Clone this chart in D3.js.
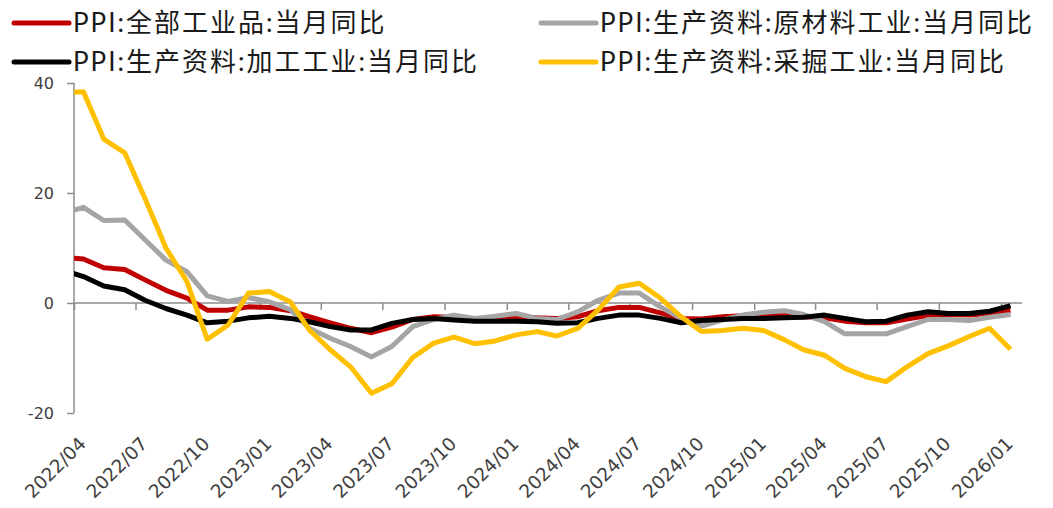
<!DOCTYPE html>
<html>
<head>
<meta charset="utf-8">
<script src="https://cdn.jsdelivr.net/npm/d3@7/dist/d3.min.js"></script>
<style>
  body { margin: 0; background: #fff; }
  svg text { font-family: "DejaVu Sans", sans-serif; }
  .legend_text { font-family: "Lato", "Noto Sans CJK SC", sans-serif; font-size: 26px; letter-spacing: 2px; fill: #1a1a1a; }
  .tick_text { font-size: 16px; fill: #404040; }
  .date_text { font-size: 18.5px; fill: #404040; }
</style>
</head>
<body>
<svg id="main_svg_container" width="1053" height="508"></svg>
<script>
// months 2022/03 .. 2026/01 (2022/03 sits just left of the axis and is clipped)
var months = ["2022/03","2022/04","2022/05","2022/06","2022/07","2022/08","2022/09","2022/10","2022/11","2022/12",
  "2023/01","2023/02","2023/03","2023/04","2023/05","2023/06","2023/07","2023/08","2023/09","2023/10","2023/11","2023/12",
  "2024/01","2024/02","2024/03","2024/04","2024/05","2024/06","2024/07","2024/08","2024/09","2024/10","2024/11","2024/12",
  "2025/01","2025/02","2025/03","2025/04","2025/05","2025/06","2025/07","2025/08","2025/09","2025/10","2025/11","2025/12",
  "2026/01"];

var ppi_all = [8.3, 8.0, 6.4, 6.1, 4.2, 2.3, 0.9, -1.3, -1.3, -0.7,
  -0.8, -1.4, -2.5, -3.6, -4.6, -5.4, -4.4, -3.0, -2.5, -2.6, -3.0, -2.7,
  -2.5, -2.7, -2.8, -2.5, -1.4, -0.8, -0.8, -1.8, -2.8, -2.9, -2.5, -2.3,
  -2.3, -2.2, -2.5, -2.7, -3.3, -3.6, -3.6, -2.9, -2.3, -2.1, -2.2, -1.9,
  -1.4];

var ppi_raw = [16.3, 17.4, 15.0, 15.1, 11.5, 7.8, 5.7, 1.3, 0.3, 1.0,
  0.2, -1.2, -4.6, -6.4, -7.9, -9.8, -7.9, -4.3, -3.0, -2.2, -2.8, -2.4,
  -1.9, -2.8, -3.0, -1.6, 0.5, 1.8, 1.8, -0.7, -2.8, -4.2, -3.1, -2.2,
  -1.7, -1.4, -2.1, -3.4, -5.6, -5.6, -5.6, -4.3, -3.0, -3.0, -3.2, -2.6,
  -2.1];

var ppi_proc = [6.0, 4.8, 3.1, 2.4, 0.5, -1.0, -2.2, -3.6, -3.3, -2.7,
  -2.4, -2.8, -3.4, -4.3, -4.9, -4.9, -3.7, -3.0, -2.8, -3.1, -3.3, -3.3,
  -3.3, -3.4, -3.7, -3.6, -2.8, -2.2, -2.2, -2.8, -3.6, -3.2, -3.0, -2.8,
  -2.8, -2.7, -2.6, -2.2, -2.8, -3.4, -3.3, -2.2, -1.6, -1.9, -1.9, -1.5,
  -0.5];

var ppi_mining = [38.2, 38.4, 29.8, 27.3, 19.0, 10.0, 3.9, -6.6, -4.0, 1.8,
  2.1, 0.2, -4.9, -8.5, -11.6, -16.4, -14.7, -9.9, -7.3, -6.2, -7.4, -6.9,
  -5.8, -5.2, -6.0, -4.6, -1.3, 2.9, 3.6, 0.9, -2.5, -5.2, -5.0, -4.6,
  -5.0, -6.7, -8.5, -9.5, -11.9, -13.4, -14.3, -11.6, -9.2, -7.8, -6.1, -4.6,
  -8.4];

var series_names = ["PPI:全部工业品:当月同比", "PPI:生产资料:原材料工业:当月同比",
  "PPI:生产资料:加工工业:当月同比", "PPI:生产资料:采掘工业:当月同比"];
var series_colors = ["#C00000", "#A5A5A5", "#000000", "#FFC000"];
var series_values = [ppi_all, ppi_raw, ppi_proc, ppi_mining];

var x_tick_labels = ["2022/04","2022/07","2022/10","2023/01","2023/04","2023/07","2023/10","2024/01",
  "2024/04","2024/07","2024/10","2025/01","2025/04","2025/07","2025/10","2026/01"];
var y_ticks = [-20, 0, 20, 40];

var parseMonth = d3.timeParse("%Y/%m");
// monthly values are plotted mid-month on the date axis
function pointDate(m) { return d3.timeDay.offset(parseMonth(m), 14); }

var plot_left = 74, plot_right = 1022, plot_top = 83, plot_bottom = 413;

var x = d3.scaleTime()
    .domain([parseMonth("2022/04"), parseMonth("2026/02")])
    .range([plot_left, plot_right]);
var y = d3.scaleLinear().domain([-20, 40]).range([plot_bottom, plot_top]);

var svg = d3.select("#main_svg_container");
var axis_color = "#8c8c8c";

svg.append("clipPath").attr("id", "plot_clip")
  .append("rect")
    .attr("x", plot_left).attr("y", 0)
    .attr("width", plot_right - plot_left).attr("height", 508);

// y axis
var yAxis = svg.append("g")
    .attr("transform", "translate(" + plot_left + ",0)")
    .call(d3.axisLeft(y).tickValues(y_ticks).tickSize(7).tickPadding(13).tickFormat(d3.format("d")));
yAxis.select(".domain").attr("stroke", axis_color).attr("stroke-width", 1.5).attr("d", "M0," + plot_top + "V" + plot_bottom);
yAxis.selectAll(".tick line").attr("stroke", axis_color).attr("stroke-width", 1.5);
yAxis.selectAll(".tick text").attr("class", "tick_text").text(function(d) { return d < 0 ? "-" + Math.abs(d) : d; });

// x axis on the zero line
var xAxis = svg.append("g")
    .attr("transform", "translate(0," + y(0) + ")")
    .call(d3.axisBottom(x).tickValues(x_tick_labels.map(parseMonth)).tickSize(7).tickFormat(""));
xAxis.select(".domain").attr("stroke", axis_color).attr("stroke-width", 1.5).attr("d", "M" + plot_left + ",0H" + plot_right);
xAxis.selectAll(".tick line").attr("stroke", axis_color).attr("stroke-width", 1.5);

// rotated date labels below the plot
svg.append("g").selectAll("text")
  .data(x_tick_labels)
  .enter().append("text")
    .attr("class", "date_text")
    .attr("text-anchor", "end")
    .attr("transform", function(d) {
      return "translate(" + (x(parseMonth(d)) + 13) + "," + (plot_bottom + 32) + ") rotate(-45)";
    })
    .text(function(d) { return d; });

// lines
var line = d3.line()
    .x(function(d) { return x(d.date); })
    .y(function(d) { return y(d.value); });

svg.append("g").attr("clip-path", "url(#plot_clip)")
  .selectAll("path")
  .data(series_values)
  .enter().append("path")
    .attr("fill", "none")
    .attr("stroke", function(d, i) { return series_colors[i]; })
    .attr("stroke-width", 5)
    .attr("stroke-linejoin", "round")
    .attr("d", function(vals) {
      return line(vals.map(function(v, j) { return { date: pointDate(months[j]), value: v }; }));
    });

// legend, two columns by two rows
var legend_x = [14, 541], legend_y = [23, 62];
var legend = svg.append("g").selectAll("g")
  .data(series_names)
  .enter().append("g")
    .attr("transform", function(d, i) {
      return "translate(" + legend_x[i % 2] + "," + legend_y[Math.floor(i / 2)] + ")";
    });
legend.append("line")
    .attr("x1", 0).attr("x2", 55)
    .attr("stroke", function(d, i) { return series_colors[i]; })
    .attr("stroke-width", 5)
    .attr("stroke-linecap", "round");
legend.append("text")
    .attr("class", "legend_text")
    .attr("x", 59)
    .attr("dy", "0.35em")
    .text(function(d) { return d; });
</script>
</body>
</html>
